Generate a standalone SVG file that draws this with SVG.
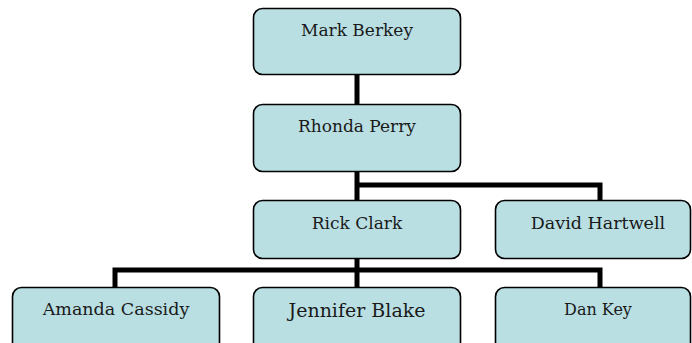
<svg xmlns="http://www.w3.org/2000/svg" width="692" height="343" viewBox="0 0 692 343">
<style>
.box{fill:#b9dfe3;stroke:#000;stroke-width:1.6}
.t{font-family:"DejaVu Serif",serif;fill:#1a1a1a;text-anchor:middle}
.c{fill:none;stroke:#000;stroke-width:5;stroke-linejoin:miter}
</style>
<g id="connectors">
<path class="c" d="M357 75V104"/>
<path class="c" d="M357 171V200M357 185H600V200"/>
<path class="c" d="M357 258V287M115 287V270H600V287"/>
</g>
<g id="n1"><rect class="box" x="253.5" y="8.5" width="207" height="66" rx="9"/><text class="t" x="357" y="36" font-size="17">Mark Berkey</text></g>
<g id="n2"><rect class="box" x="253.5" y="104.5" width="207" height="67" rx="9"/><text class="t" x="357" y="132" font-size="17">Rhonda Perry</text></g>
<g id="n3"><rect class="box" x="253.5" y="200.5" width="207" height="58" rx="9"/><text class="t" x="357" y="229" font-size="17">Rick Clark</text></g>
<g id="n4"><rect class="box" x="495.5" y="200.5" width="195" height="58" rx="9"/><text class="t" x="598" y="229" font-size="17.5">David Hartwell</text></g>
<g id="n5"><rect class="box" x="12.5" y="287.5" width="207" height="66" rx="9"/><text class="t" x="116" y="315" font-size="17.5">Amanda Cassidy</text></g>
<g id="n6"><rect class="box" x="253.5" y="287.5" width="207" height="66" rx="9"/><text class="t" x="357" y="317" font-size="19">Jennifer Blake</text></g>
<g id="n7"><rect class="box" x="495.5" y="287.5" width="195" height="66" rx="9"/><text class="t" x="598" y="315" font-size="16">Dan Key</text></g>
</svg>
